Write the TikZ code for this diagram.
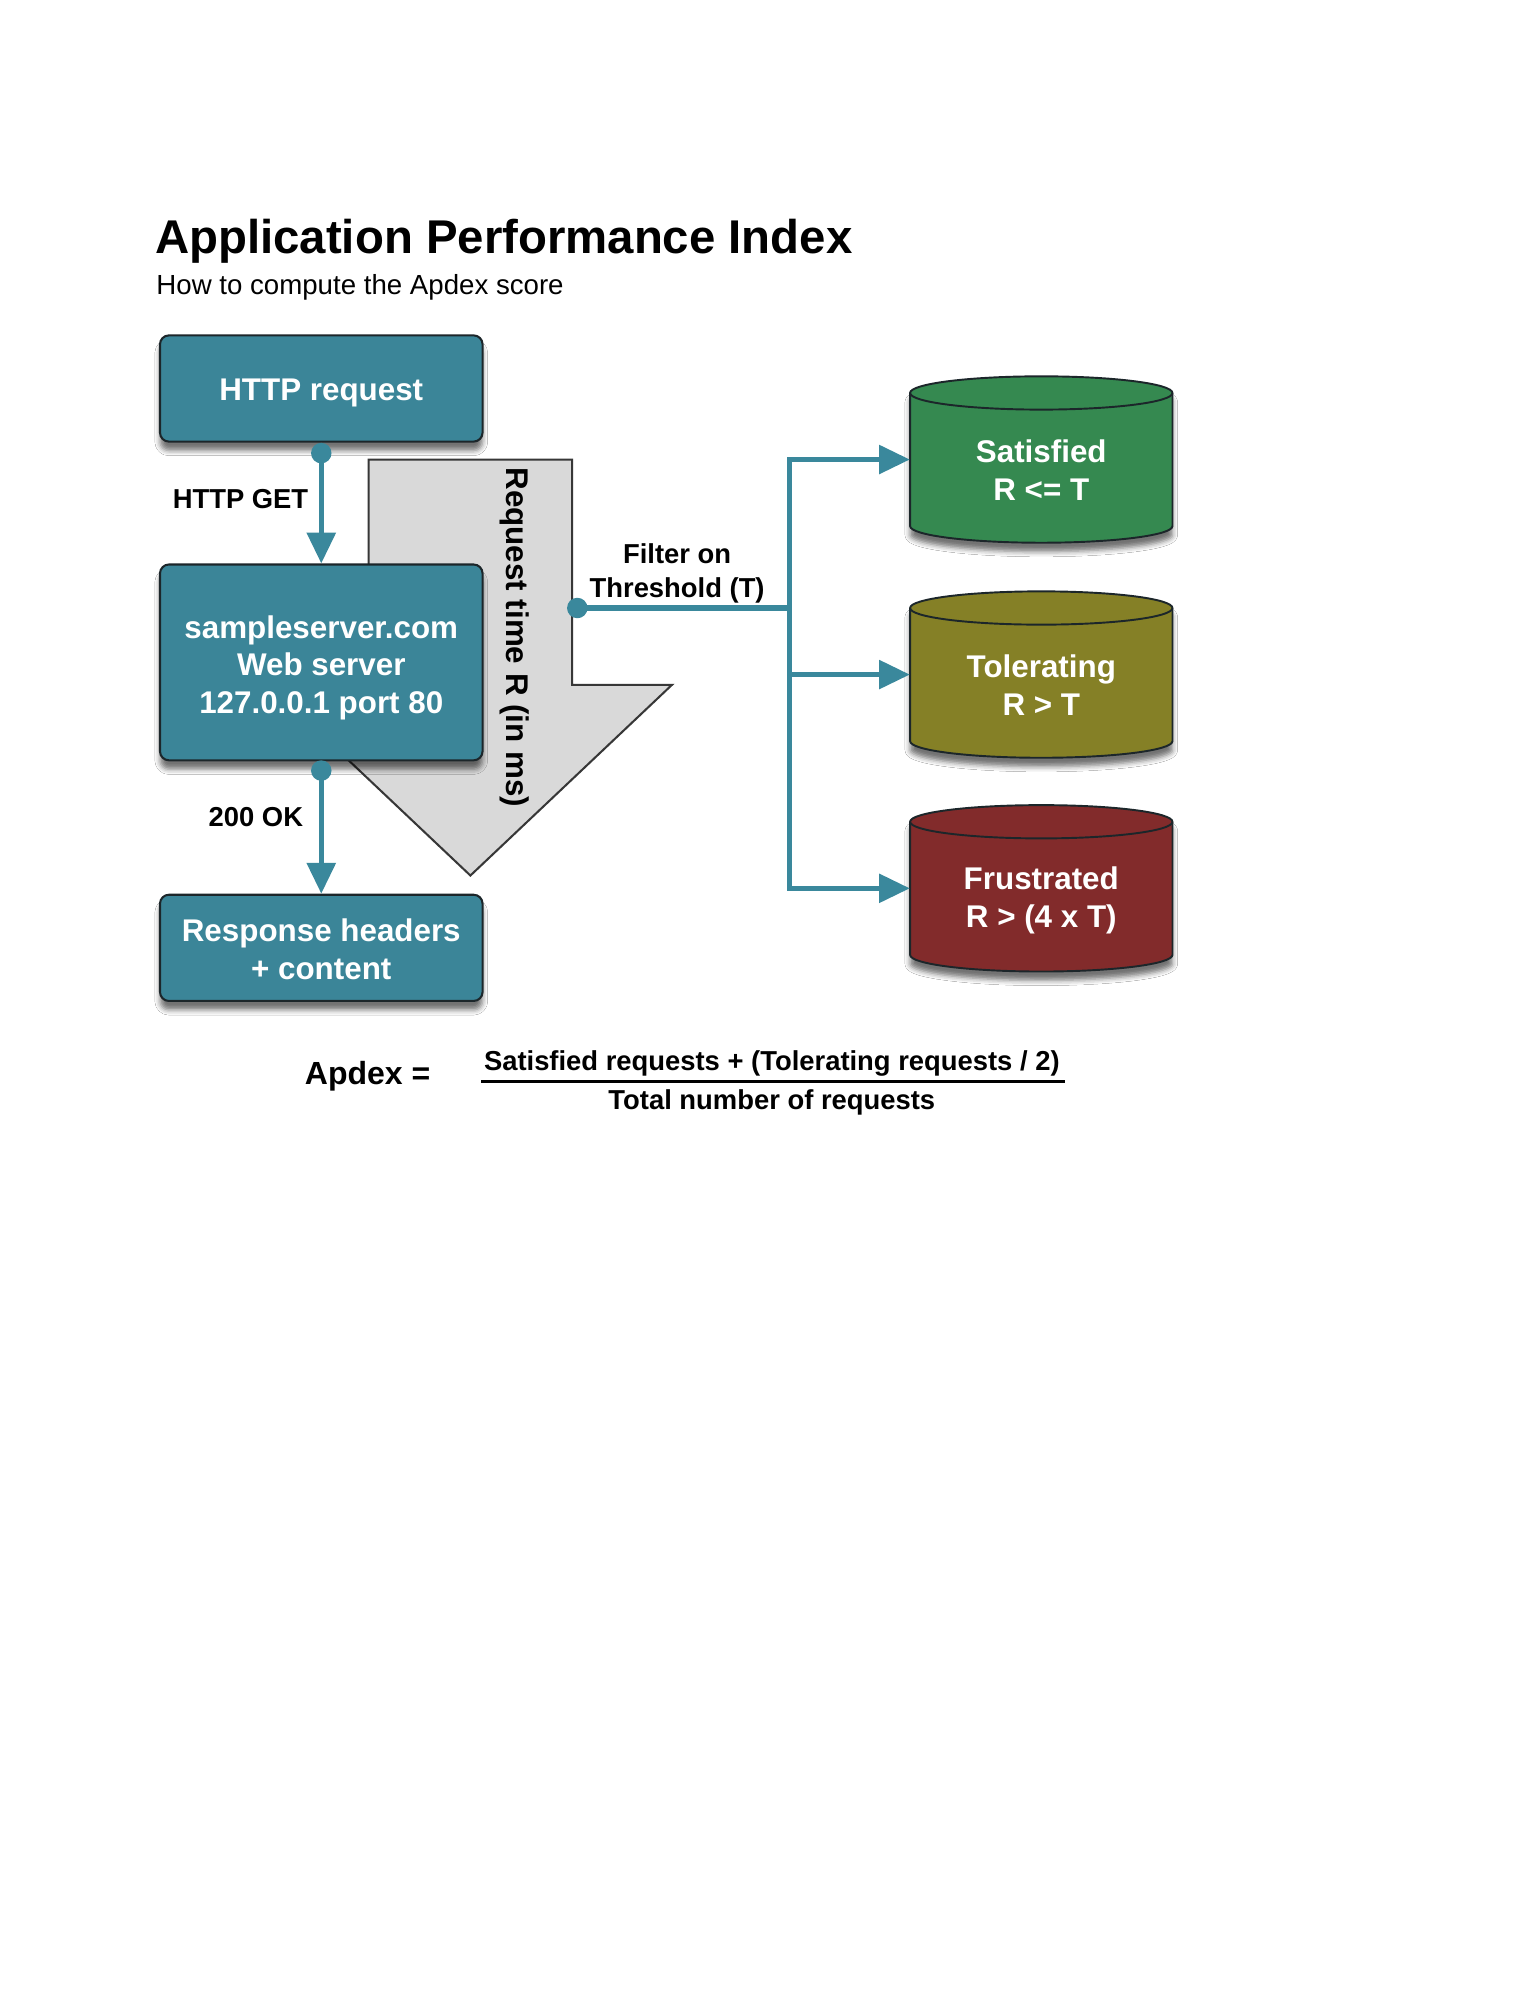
\documentclass[tikz,border=0pt]{standalone}
\usepackage{fontspec}
\setmainfont{Liberation Sans}
\usetikzlibrary{arrows.meta,shadows.blur,calc}
\definecolor{tealbox}{RGB}{59,133,152}
\definecolor{conncol}{RGB}{58,136,156}
\definecolor{boxborder}{RGB}{28,38,42}
\definecolor{satcol}{RGB}{53,137,80}
\definecolor{tolcol}{RGB}{133,128,38}
\definecolor{frucol}{RGB}{130,43,43}
\definecolor{arrowfill}{RGB}{217,217,217}
\definecolor{arrowline}{RGB}{55,55,55}
\newcommand\myNodeFont{\fontsize{24.5pt}{29.5pt}\selectfont\bfseries}
\newcommand\myLblFont{\fontsize{21.4pt}{27pt}\selectfont\bfseries}
\newcommand\myStrut[1]{\rule{0pt}{#1}}
\newcommand\myCyl[3]{%
  \pgfmathsetmacro\cxl{#1-102.5}%
  \pgfmathsetmacro\cxr{#1+102.5}%
  \pgfmathsetmacro\cyt{#2+52}%
  \pgfmathsetmacro\cyb{#2-52}%
  \filldraw[fill=#3, draw=boxborder, line width=1.5pt, line join=round,
    blur shadow={shadow xshift=0pt, shadow yshift=-7pt, shadow blur radius=4pt, shadow opacity=55}]
    (\cxl,\cyt) -- (\cxl,\cyb) arc[start angle=180, end angle=360, x radius=102.5pt, y radius=13pt]
    -- (\cxr,\cyt) arc[start angle=0, end angle=180, x radius=102.5pt, y radius=13pt] -- cycle;
  \draw[boxborder, line width=1.5pt] (\cxl,\cyt) arc[start angle=180, end angle=360, x radius=102.5pt, y radius=13pt];
}
\begin{document}
\begin{tikzpicture}[x=1pt,y=1pt,
  box/.style={draw=boxborder, line width=1.6pt, fill=tealbox, rounded corners=7pt,
    minimum width=252pt, text=white, font=\myNodeFont, align=center, inner sep=0pt,
    blur shadow={shadow xshift=0pt, shadow yshift=-7pt, shadow blur radius=4pt, shadow opacity=55}},
  conn/.style={draw=conncol, line width=4pt},
  tip/.style={-{Triangle[length=24pt,width=22pt]}},
  dot/.style={fill=conncol},
  lbl/.style={font=\myLblFont, text=black, inner sep=0pt, align=center},
  cyltext/.style={font=\myNodeFont, text=white, align=center, inner sep=0pt},
  cylbody/.style={minimum width=205pt, minimum height=104pt, inner sep=0pt, draw=none},
  bigarrow/.style={fill=arrowfill, draw=arrowline, line width=1.6pt, line join=miter}
]
\useasboundingbox[fill=white] (0,0) rectangle (1200,-1568.75);

% title
\node[anchor=base west, inner sep=0pt, font=\fontsize{37pt}{44pt}\selectfont\bfseries] (title) at (121,-198) {Application Performance Index};
\node[anchor=base west, inner sep=0pt, font=\fontsize{21.6pt}{26pt}\selectfont] (subtitle) at (122,-230) {How to compute the Apdex score};

% big gray arrow
\draw[bigarrow] (288,-359) -- (447,-359) -- (447,-535) -- (525,-535) -- (367.5,-684) -- (210,-535) -- (288,-535) -- cycle;
\node[lbl, font=\myNodeFont, rotate=-90] (rtime) at (402,-498) {Request time R (in ms)};

% boxes
\node[box, minimum height=83pt] (req) at (251,-303.5) {\myStrut{24pt}HTTP request};
\node[box, minimum height=153pt] (srv) at (251,-517.5) {\myStrut{26pt}sampleserver.com\\Web server\\127.0.0.1 port 80};
\node[box, minimum height=83pt] (resp) at (251,-740.5) {\myStrut{20.5pt}Response headers\\+ content};

% vertical connectors
\coordinate (d1) at (251,-354);
\coordinate (d2) at (251,-602);
\draw[conn, tip] (d1) -- (srv.north);
\fill[dot] (d1) circle[radius=8pt];
\draw[conn, tip] (d2) -- (resp.north);
\fill[dot] (d2) circle[radius=8pt];
\node[lbl, anchor=east] (get) at (241,-390) {HTTP GET};
\node[lbl, anchor=east] (ok) at (237,-638) {200 OK};

% cylinders
\myCyl{813.5}{-359}{satcol}
\myCyl{813.5}{-527}{tolcol}
\myCyl{813.5}{-694}{frucol}
\node[cylbody] (satbody) at (813.5,-359) {};
\node[cylbody] (tolbody) at (813.5,-527) {};
\node[cylbody] (frubody) at (813.5,-694) {};
\node[cyltext] (sat) at (813.5,-367.5) {Satisfied\\R <= T};
\node[cyltext] (tol) at (813.5,-535) {Tolerating\\R > T};
\node[cyltext] (fru) at (813.5,-703.5) {Frustrated\\R > (4 x T)};

% filter connectors
\coordinate (d3) at (451,-475);
\coordinate (split) at (617,-475);
\draw[conn] (d3) -- (split);
\draw[conn, tip] (split) |- (satbody.west);
\draw[conn, tip] (split) |- (tolbody.west);
\draw[conn, tip] (split) |- (frubody.west);
\fill[dot] (d3) circle[radius=8pt];
\node[lbl] (filter) at (529,-448) {Filter on\\Threshold (T)};

% formula
\node[anchor=base west, inner sep=0pt, font=\fontsize{25pt}{30pt}\selectfont\bfseries] (apdex) at (238,-847) {Apdex =};
\node[lbl, anchor=base] (num) at (603,-836.5) {Satisfied requests + (Tolerating requests / 2)};
\node[lbl, anchor=base] (den) at (603,-866.5) {Total number of requests};
\draw[line width=2.6pt] ($(num.west |- 0,-845)+(-2,0)$) -- ($(num.east |- 0,-845)+(4,0)$);
\end{tikzpicture}
\end{document}
